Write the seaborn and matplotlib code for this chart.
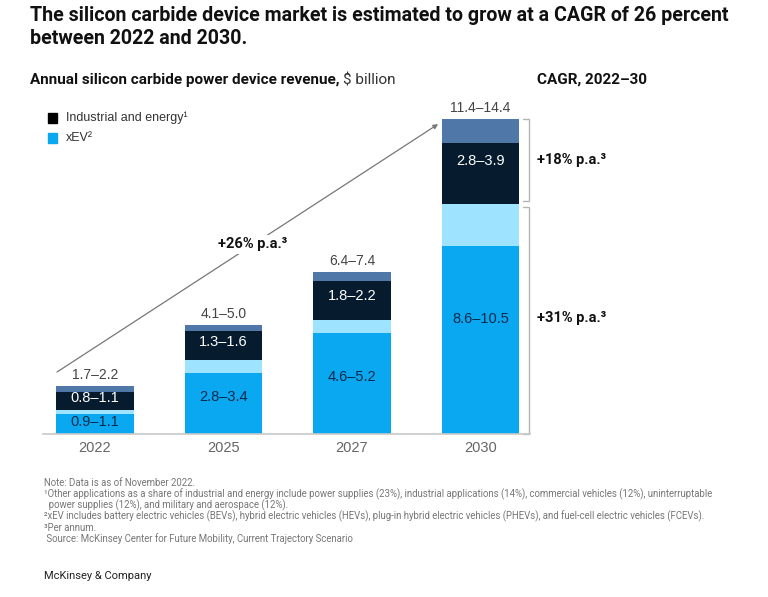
import matplotlib
matplotlib.use("Agg")
import matplotlib.pyplot as plt
import seaborn as sns
import pandas as pd

# ---- data ----
years = ["2022", "2025", "2027", "2030"]
xev_low = [0.9, 2.8, 4.6, 8.6]
xev_high = [1.1, 3.4, 5.2, 10.5]
ind_low = [0.8, 1.3, 1.8, 2.8]
ind_high = [1.1, 1.6, 2.2, 3.9]
total_low = [1.7, 4.1, 6.4, 11.4]
total_high = [2.2, 5.0, 7.4, 14.4]
cagr_total = "+26% p.a.³"
cagr_ind = "+18% p.a.³"
cagr_xev = "+31% p.a.³"

sns.set_style("white")
FAM = ["Roboto", "DejaVu Sans"]
plt.rcParams["font.family"] = FAM

C_BLUE = "#0AA8F0"
C_LIGHT = "#9EE3FF"
C_NAVY = "#061C2E"
C_STEEL = "#4F78A8"

df = pd.DataFrame({
    "year": years,
    "s1": xev_low,
    "s2": xev_high,
    "s3": [a + b for a, b in zip(xev_high, ind_low)],
    "s4": [a + b for a, b in zip(xev_high, ind_high)],
})

fig = plt.figure(figsize=(7.68, 5.97), dpi=100)
ax = fig.add_axes([43 / 768, (597 - 434) / 597, 487 / 768, 324 / 597])

for col, c in [("s4", C_STEEL), ("s3", C_NAVY), ("s2", C_LIGHT), ("s1", C_BLUE)]:
    sns.barplot(data=df, x="year", y=col, color=c, saturation=1, width=0.6,
                errorbar=None, ax=ax, linewidth=0)

ax.set_xlim(-0.405, 3.385)
ax.set_ylim(0, 324 / 21.9)
ax.set_xlabel("")
ax.set_ylabel("")
ax.set_yticks([])
for s in ["top", "right", "left"]:
    ax.spines[s].set_visible(False)
ax.spines["bottom"].set_color("#c8c8c8")
ax.spines["bottom"].set_linewidth(1.2)
ax.tick_params(axis="x", length=0, pad=5, labelsize=10.5, labelcolor="#666666")
NUMF = ["Liberation Sans", "DejaVu Sans"]
for t in ax.get_xticklabels():
    t.set_fontfamily(NUMF)

for i in range(len(years)):
    ax.text(i, xev_high[i] / 2, f"{xev_low[i]}–{xev_high[i]}", ha="center", va="center",
            fontsize=10.5, color="#0B2A4A", family=NUMF)
    ax.text(i, xev_high[i] + ind_high[i] / 2, f"{ind_low[i]}–{ind_high[i]}", ha="center",
            va="center", fontsize=10.5, color="white", family=NUMF)
    ax.text(i, total_high[i] + 0.18, f"{total_low[i]}–{total_high[i]}", ha="center",
            va="bottom", fontsize=10, color="#444444", family=NUMF)

# growth arrow
x0, y0 = -0.296, total_high[0] + 0.63
x1, y1 = 3 - 0.33, total_high[3] - 0.25
ax.annotate("", xy=(x1, y1), xytext=(x0, y0),
            arrowprops=dict(arrowstyle="-|>", color="#777777", lw=0.9,
                            mutation_scale=7, shrinkA=0, shrinkB=0),
            annotation_clip=False)
xm = 1.23
ym = y0 + (y1 - y0) * (xm - x0) / (x1 - x0)
ax.text(xm, ym, cagr_total, ha="center", va="center", fontsize=10.5, fontweight="bold",
        color="#111111", bbox=dict(facecolor="white", edgecolor="none", pad=2))

# brackets
bx = 3.38
tk = 0.05
gap = 0.12
def bracket(ya, yb):
    ax.plot([bx - tk, bx, bx, bx - tk], [yb, yb, ya, ya], color="#b5b5b5", lw=1,
            clip_on=False, solid_joinstyle="miter")
bracket(xev_high[3] + gap, total_high[3])
bracket(0, xev_high[3] - gap)
ax.text(bx + 0.06, xev_high[3] + ind_high[3] / 2 + 0.05, cagr_ind, ha="left", va="center",
        fontsize=10.5, fontweight="bold", color="#111111")
ax.text(bx + 0.06, xev_high[3] / 2 + 0.05, cagr_xev, ha="left", va="center",
        fontsize=10.5, fontweight="bold", color="#111111")

# titles
fig.text(30 / 768, 1 - 6 / 597,
         "The silicon carbide device market is estimated to grow at a CAGR of 26 percent\nbetween 2022 and 2030.",
         ha="left", va="top", fontsize=14.1, fontweight="bold", color="#111111",
         linespacing=1.25)
sub = fig.text(30 / 768, 1 - 80 / 597, "Annual silicon carbide power device revenue, ",
               ha="left", va="center", fontsize=11, fontweight="bold", color="#111111")
fig.canvas.draw()
bb = sub.get_window_extent()
fig.text(bb.x1 / 768, 1 - 80 / 597, "$ billion", ha="left", va="center", fontsize=11,
         color="#333333")
fig.text(537 / 768, 1 - 80 / 597, "CAGR, 2022–30", ha="left", va="center", fontsize=11,
         fontweight="bold", color="#111111")

# legend
for yy, c, lab in [(118, "black", "Industrial and energy¹"), (138, C_BLUE, "xEV²")]:
    fig.patches.append(plt.Rectangle((48 / 768, 1 - (yy + 5) / 597), 9 / 768, 10 / 597,
                                     transform=fig.transFigure, color=c))
    fig.text(66 / 768, 1 - yy / 597, lab, ha="left", va="center", fontsize=9,
             color="#333333", family=NUMF)

notes = [
    "Note: Data is as of November 2022.",
    "¹Other applications as a share of industrial and energy include power supplies (23%), industrial applications (14%), commercial vehicles (12%), uninterruptable",
    "  power supplies (12%), and military and aerospace (12%).",
    "²xEV includes battery electric vehicles (BEVs), hybrid electric vehicles (HEVs), plug-in hybrid electric vehicles (PHEVs), and fuel-cell electric vehicles (FCEVs).",
    "³Per annum.",
    " Source: McKinsey Center for Future Mobility, Current Trajectory Scenario",
]
for k, line in enumerate(notes):
    fig.text(44 / 768, 1 - (483 + 11.2 * k) / 597, line, ha="left", va="center",
             fontsize=6.9, color="#777777")
fig.text(44 / 768, 1 - 576 / 597, "McKinsey & Company", ha="left", va="center",
         fontsize=8, color="#222222")

fig.savefig("out.png", dpi=100)
